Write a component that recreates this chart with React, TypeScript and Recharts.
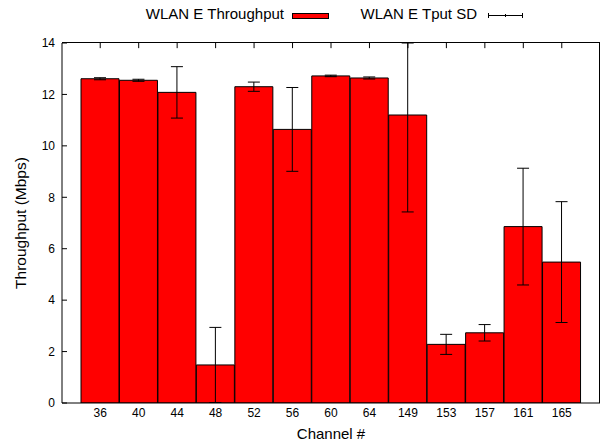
import { ComposedChart, Bar, ErrorBar, XAxis, YAxis, ReferenceLine } from "recharts";

const channels = ["36", "40", "44", "48", "52", "56", "60", "64", "149", "153", "157", "161", "165"];
const throughput = [12.61, 12.55, 12.08, 1.48, 12.3, 10.64, 12.72, 12.64, 11.2, 2.28, 2.73, 6.86, 5.48];
const tputSd = [0.04, 0.04, 1.0, 1.46, 0.18, 1.63, 0.03, 0.04, 3.77, 0.39, 0.32, 2.27, 2.35];
const yTicks = [0, 2, 4, 6, 8, 10, 12, 14];
const yMax = 14;
const mirrorTick = 0.2; // length of the mirrored top ticks, in y units

const data = channels.map((channel, i) => ({
  channel,
  tput: throughput[i],
  sd: tputSd[i],
}));

// error bars get cut at the top of the plot like gnuplot does
const sdRange = (d: any) => [d.sd, Math.min(d.sd, yMax - d.tput)];

const font = "'Liberation Sans', Arial, sans-serif";

function YLabel({ viewBox }: any) {
  const cy = viewBox.y + viewBox.height / 2;
  return (
    <text
      x={20}
      y={cy}
      transform={`rotate(-90, 20, ${cy})`}
      textAnchor="middle"
      dominantBaseline="central"
      fontSize={15.5}
      fill="#000"
    >
      Throughput (Mbps)
    </text>
  );
}

export default function App() {
  return (
    <div style={{ position: "absolute", left: 0, top: 0, width: 604, height: 445, fontFamily: font, background: "#fff" }}>
      {/* legend, gnuplot style: text then sample */}
      <div style={{ position: "absolute", top: 5, left: 84, width: 200, textAlign: "right", fontSize: 15, lineHeight: "17px" }}>
        WLAN E Throughput
      </div>
      <svg style={{ position: "absolute", left: 292, top: 12 }} width={38} height={8}>
        <rect x={0.5} y={1.5} width={36} height={5} fill="#ff0000" stroke="#000" />
      </svg>
      <div style={{ position: "absolute", top: 5, left: 277, width: 200, textAlign: "right", fontSize: 15, lineHeight: "17px" }}>
        WLAN E Tput SD
      </div>
      <svg style={{ position: "absolute", left: 487, top: 10 }} width={38} height={10}>
        <line x1={1} y1={5.5} x2={36} y2={5.5} stroke="#000" />
        <line x1={1.5} y1={3} x2={1.5} y2={8} stroke="#000" />
        <line x1={35.5} y1={3} x2={35.5} y2={8} stroke="#000" />
        <line x1={18.5} y1={4} x2={18.5} y2={7} stroke="#000" />
      </svg>

      <ComposedChart
        width={604}
        height={445}
        data={data}
        margin={{ top: 43, right: 4, bottom: 0, left: 0 }}
        barCategoryGap={0}
        style={{ fontFamily: font }}
      >
        <XAxis
          dataKey="channel"
          height={42}
          padding={{ left: 19, right: 19 }}
          tickLine={false}
          tickSize={0}
          tickMargin={5}
          tick={{ fontSize: 12, fill: "#000" }}
          axisLine={{ stroke: "#000" }}
          label={{ value: "Channel #", position: "insideBottom", offset: 6, fontSize: 15, fill: "#000" }}
        />
        <YAxis
          width={62}
          domain={[0, yMax]}
          ticks={yTicks}
          allowDataOverflow
          tickSize={-5}
          tickMargin={12}
          tick={{ fontSize: 12, fill: "#000" }}
          tickLine={{ stroke: "#000" }}
          axisLine={{ stroke: "#000" }}
          label={<YLabel />}
        />
        {channels.map((c) => (
          <ReferenceLine
            key={c}
            segment={[
              { x: c, y: yMax },
              { x: c, y: yMax - mirrorTick },
            ]}
            stroke="#000"
          />
        ))}
        <Bar dataKey="tput" fill="#ff0000" stroke="#000" strokeWidth={1} isAnimationActive={false}>
          <ErrorBar dataKey={sdRange} width={6} stroke="#000" strokeWidth={1} direction="y" isAnimationActive={false} />
        </Bar>
      </ComposedChart>

      {/* top and right edge of the gnuplot border box */}
      <div
        style={{
          position: "absolute",
          left: 62,
          top: 42,
          width: 538,
          height: 361,
          boxSizing: "border-box",
          borderTop: "1px solid #000",
          borderRight: "1px solid #000",
          pointerEvents: "none",
        }}
      />
    </div>
  );
}
